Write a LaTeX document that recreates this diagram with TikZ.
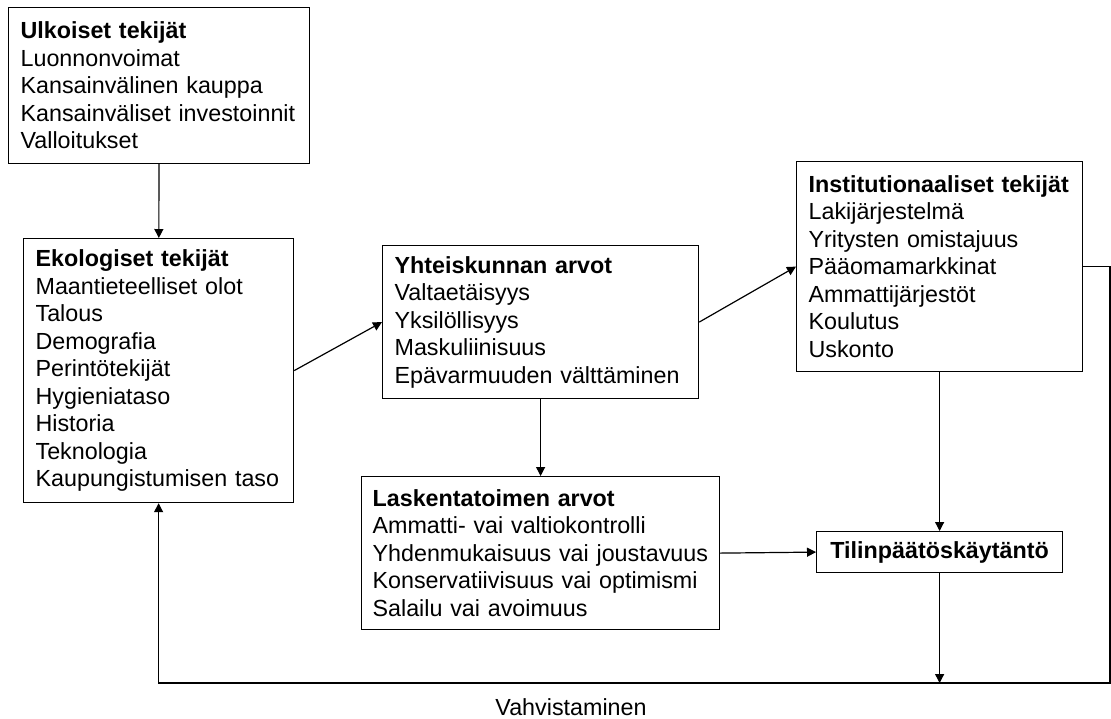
\documentclass[tikz,border=0pt]{standalone}
\usepackage{fontspec}
\setmainfont{Liberation Sans}
\usetikzlibrary{arrows.meta}
\newcommand\boxfont{\fontsize{11.65pt}{13.75pt}\selectfont\hyphenpenalty=10000\relax\exhyphenpenalty=10000\relax}
\begin{document}
\begin{tikzpicture}[x=0.5pt,y=-0.5pt,
  box/.style={draw=black, line width=0.6pt, anchor=north west, align=left,
    inner xsep=6pt, inner ysep=0pt, font=\boxfont},
  conn/.style={line width=0.6pt, -{Triangle[length=4.5pt,width=4.5pt]}}]
  \useasboundingbox (0,0) rectangle (1111,718);

  % factor boxes
  \node[box, text width=138.5pt, minimum height=78pt] (ulk) at (8,7)
    {\textbf{Ulkoiset tekijät}\\Luonnonvoimat\\Kansainvälinen kauppa\\Kansainväliset~investoinnit\\Valloitukset};
  \node[box, text width=123pt, minimum height=132pt] (eko) at (23,238)
    {\textbf{Ekologiset tekijät}\\Maantieteelliset olot\\Talous\\Demografia\\Perintötekijät\\Hygieniataso\\Historia\\Teknologia\\Kaupungistumisen~taso};
  \node[box, text width=146pt, minimum height=76.5pt] (yht) at (382,245)
    {\textbf{Yhteiskunnan arvot}\\Valtaetäisyys\\Yksilöllisyys\\Maskuliinisuus\\Epävarmuuden~välttäminen};
  \node[box, text width=131pt, minimum height=105pt] (inst) at (796,161)
    {\textbf{Institutionaaliset~tekijät}\\Lakijärjestelmä\\Yritysten omistajuus\\Pääomamarkkinat\\Ammattijärjestöt\\Koulutus\\Uskonto};
  \node[box, inner xsep=5.5pt, text width=168pt, minimum height=76.5pt] (lask) at (361,476)
    {\textbf{Laskentatoimen arvot}\\Ammatti- vai valtiokontrolli\\Yhdenmukaisuus~vai~joustavuus\\Konservatiivisuus~vai~optimismi\\Salailu vai avoimuus};
  \node[box, align=center, inner xsep=0pt, minimum width=123pt, minimum height=20.5pt] (tilin) at (816,531)
    {\textbf{Tilinpäätöskäytäntö}};

  % feedback loop label
  \node[font=\boxfont] (vahv) at (571,707) {Vahvistaminen};

  % connectors
  \draw[conn] (ulk) -- (eko);
  \draw[conn] (eko.east) -- (yht.west);
  \draw[conn] (yht.east) -- (inst.west);
  \draw[conn] (yht) -- (lask);
  \draw[conn] (inst) -- (tilin);
  \draw[conn] (lask.east) -- (tilin.west);

  % feedback line along the bottom
  \coordinate (fr) at (1110,683);
  \draw[conn] (tilin.south) -- (tilin.south |- fr);
  \draw[conn] (inst.east) -| (fr) -| (eko.south);
\end{tikzpicture}
\end{document}
